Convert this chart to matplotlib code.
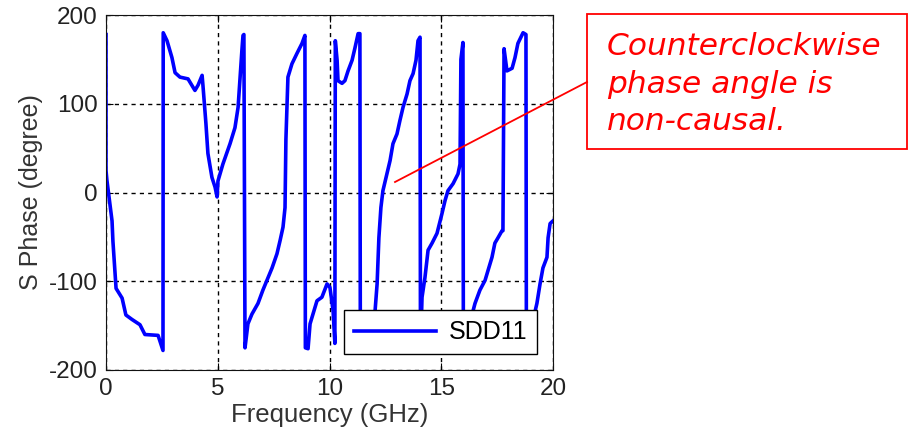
import matplotlib.pyplot as plt

plt.rcParams['axes.unicode_minus'] = False

# Frequency (GHz) and phase (degree)
freq = [0.0, 0.0, 0.04, 0.27, 0.31, 0.40, 0.45, 0.72, 0.89, 1.16, 1.52, 1.74, 2.33, 2.55,
        2.56, 2.73, 2.95, 3.09, 3.31, 3.67, 3.98, 4.12, 4.30, 4.34, 4.47, 4.56, 4.74, 4.88,
        4.97, 5.01, 5.23, 5.55, 5.77, 5.91, 6.00, 6.08, 6.13, 6.17,
        6.22, 6.35, 6.53, 6.80, 7.02, 7.20, 7.43, 7.65, 7.79, 7.92, 8.01, 8.05, 8.14, 8.32,
        8.55, 8.77, 8.90,
        8.92, 9.04, 9.13, 9.26, 9.44, 9.66, 9.89, 10.02, 10.16, 10.24,
        10.26, 10.34, 10.38, 10.56, 10.69, 10.83, 11.01, 11.14, 11.28, 11.36,
        11.38, 11.70, 12.04, 12.13, 12.17, 12.21, 12.30, 12.39, 12.57, 12.71, 12.84, 13.02,
        13.15, 13.29, 13.47, 13.60, 13.74, 13.87, 13.96, 14.05,
        14.07, 14.14, 14.27, 14.41, 14.59, 14.81, 15.03, 15.17, 15.30, 15.53, 15.75, 15.84,
        15.88, 15.97,
        15.99, 16.25, 16.51, 16.73, 16.96, 17.09, 17.27, 17.40, 17.54, 17.72, 17.76,
        17.81, 17.94, 18.17, 18.30, 18.43, 18.66, 18.79,
        18.81, 19.05, 19.28, 19.42, 19.55, 19.73, 19.78, 19.87, 20.0]
phase = [178, 25, 14, -32, -55, -89, -108, -119, -138, -143, -149, -160, -161, -178,
         180, 171, 152, 135, 130, 128, 115, 121, 132, 120, 78, 44, 17, 6,
         -5, 13, 32, 55, 73, 96, 130, 160, 177, 178,
         -175, -148, -137, -125, -110, -99, -85, -69, -54, -39, -17, 60, 130, 145,
         157, 168, 177,
         -175, -176, -148, -137, -122, -118, -103, -107, -133, -170,
         171, 149, 126, 123, 126, 137, 149, 163, 179, 179,
         -178, -160, -133, -103, -77, -51, -17, 2, 21, 36, 55, 66,
         81, 96, 111, 126, 134, 149, 171, 175,
         -178, -118, -96, -65, -57, -46, -24, -9, 2, 10, 21, 32,
         150, 169,
         -178, -150, -125, -110, -99, -88, -73, -57, -51, -43, -43,
         162, 137, 140, 152, 168, 180, 178,
         -178, -150, -125, -103, -85, -73, -51, -35, -32]

xticks = [0, 5, 10, 15, 20]
yticks = [-200, -100, 0, 100, 200]

note = 'Counterclockwise\nphase angle is\nnon-causal.'

fig = plt.figure(figsize=(9.09, 4.43), dpi=100)
ax = fig.add_axes([106 / 909, 1 - 370 / 443, 447 / 909, 355 / 443])

ax.plot(freq, phase, color='#0000ff', linewidth=2.6, label='SDD11')
ax.set_xlim(0, 20)
ax.set_ylim(-200, 200)
ax.set_xticks(xticks)
ax.set_yticks(yticks)
ax.grid(True, color='black', linestyle=(0, (3, 3)), linewidth=1.0)
ax.tick_params(direction='in', top=True, right=True, labelsize=17.5, length=5,
               pad=6, labelcolor='#222222')
for lab in ax.get_xticklabels() + ax.get_yticklabels():
    lab.set_family('Liberation Sans')
for s in ax.spines.values():
    s.set_color('#111111')
ax.set_xlabel('Frequency (GHz)', fontsize=18.5, family='Liberation Sans', color='#333333', labelpad=2)
ax.set_ylabel('S Phase (degree)', fontsize=18, family='Liberation Sans', color='#333333', labelpad=4)

leg = ax.legend(loc='lower right', bbox_to_anchor=(0.976, 0.03), fancybox=False,
                framealpha=1, edgecolor='black', handlelength=3.3, handletextpad=0.5,
                prop={'family': 'Liberation Sans', 'size': 18}, borderpad=0.4,
                borderaxespad=0.2)
leg.get_frame().set_linewidth(1.0)

# red callout box with pointer line
fig.text(607 / 909, 1 - 32 / 443, note, color='red', fontsize=22.5, style='italic',
         family='DejaVu Sans', va='top', ha='left', linespacing=1.38)
fig.patches.append(plt.Rectangle((587 / 909, 1 - 149 / 443), 320 / 909, 135 / 443,
                                 transform=fig.transFigure, fill=False,
                                 edgecolor='red', linewidth=1.3))
fig.lines.append(plt.Line2D([395 / 909, 587 / 909], [1 - 182 / 443, 1 - 82 / 443],
                            transform=fig.transFigure, color='red', linewidth=1.3))

fig.savefig('out.png', dpi=100)
